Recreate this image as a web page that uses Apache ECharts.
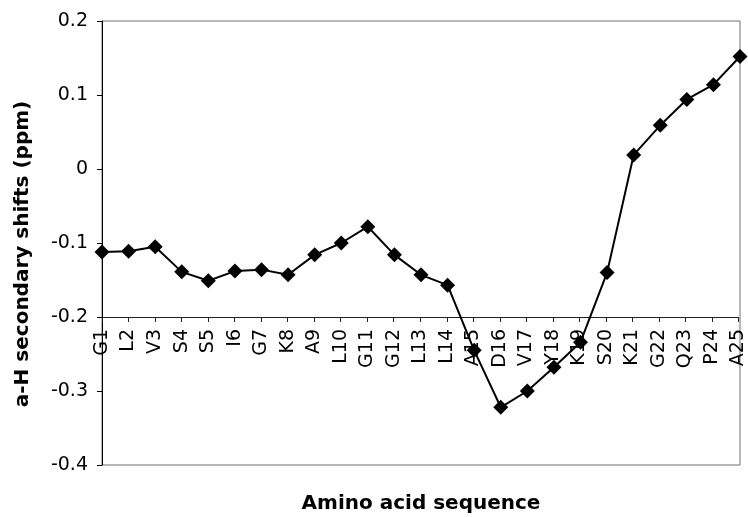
<!DOCTYPE html>
<html>
<head>
<meta charset="utf-8">
<script src="https://cdn.jsdelivr.net/npm/echarts@6/dist/echarts.min.js"></script>
<style>
  html, body { margin: 0; padding: 0; background: #fff; }
  #chart { width: 748px; height: 517px; }
</style>
</head>
<body>
<div id="chart"></div>
<script>
// Residues of the peptide, in sequence order
const residues = ['G1', 'L2', 'V3', 'S4', 'S5', 'I6', 'G7', 'K8', 'A9', 'L10',
  'G11', 'G12', 'L13', 'L14', 'A15', 'D16', 'V17', 'Y18', 'K19', 'S20',
  'K21', 'G22', 'Q23', 'P24', 'A25'];

// Alpha-H secondary chemical shifts (ppm) per residue
const shifts = [-0.112, -0.111, -0.105, -0.139, -0.151, -0.138, -0.136, -0.143, -0.116, -0.100,
  -0.078, -0.116, -0.143, -0.157, -0.245, -0.322, -0.300, -0.268, -0.234, -0.140,
  0.019, 0.059, 0.094, 0.114, 0.152];

// Value axis range and step
const yMin = -0.4;
const yMax = 0.2;
const yStep = 0.1;
// The category axis crosses the value axis at this value
const xCross = -0.2;

const xTitle = 'Amino acid sequence';
const yTitle = 'a-H secondary shifts (ppm)';

const plot = { left: 102, top: 21, right: 8, bottom: 52 };
const plotHeight = 517 - plot.top - plot.bottom;
// Height of the band from the top of the plot down to the crossing value
const crossBand = plotHeight * (yMax - xCross) / (yMax - yMin);

const tickFont = { fontFamily: 'DejaVu Sans', fontSize: 19, color: '#000' };
const titleFont = { fontFamily: 'DejaVu Sans', fontWeight: 'bold', fontSize: 20, fill: '#000' };

const chart = echarts.init(document.getElementById('chart'), null, { renderer: 'canvas' });
chart.setOption({
  animation: false,
  backgroundColor: '#fff',
  grid: [
    { left: plot.left, top: plot.top, right: plot.right, bottom: plot.bottom,
      show: true, borderColor: '#707070', borderWidth: 1, backgroundColor: 'transparent' },
    { left: plot.left, top: plot.top, right: plot.right, height: crossBand, show: false }
  ],
  xAxis: [
    { gridIndex: 0, type: 'category', data: residues, boundaryGap: false,
      axisLine: { show: false }, axisTick: { show: false }, axisLabel: { show: false },
      splitLine: { show: false } },
    { gridIndex: 1, type: 'category', data: residues, boundaryGap: false, position: 'bottom',
      axisLine: { show: true, lineStyle: { color: '#222', width: 1 } },
      axisTick: { show: true, inside: false, length: 5, interval: 0, lineStyle: { color: '#222' } },
      axisLabel: Object.assign({ rotate: 90, interval: 0, margin: 12 }, tickFont),
      splitLine: { show: false } }
  ],
  yAxis: [
    { gridIndex: 0, type: 'value', min: yMin, max: yMax, interval: yStep,
      axisLine: { show: true, lineStyle: { color: '#000', width: 1 } },
      axisTick: { show: true, inside: false, length: 5, lineStyle: { color: '#000' } },
      axisLabel: Object.assign({ margin: 14 }, tickFont),
      splitLine: { show: false } },
    { gridIndex: 1, type: 'value', min: 0, max: 1, show: false }
  ],
  series: [{
    type: 'line',
    xAxisIndex: 0,
    yAxisIndex: 0,
    data: shifts,
    symbol: 'diamond',
    symbolSize: 15,
    showAllSymbol: true,
    clip: false,
    lineStyle: { color: '#000', width: 2 },
    itemStyle: { color: '#000' },
    z: 5
  }],
  graphic: [
    { type: 'text', x: 421, y: 504,
      style: Object.assign({ text: xTitle, textAlign: 'center', textVerticalAlign: 'middle' }, titleFont) },
    { type: 'text', x: 23, y: 254, rotation: Math.PI / 2,
      style: Object.assign({ text: yTitle, textAlign: 'center', textVerticalAlign: 'middle' }, titleFont) }
  ]
});
</script>
</body>
</html>
